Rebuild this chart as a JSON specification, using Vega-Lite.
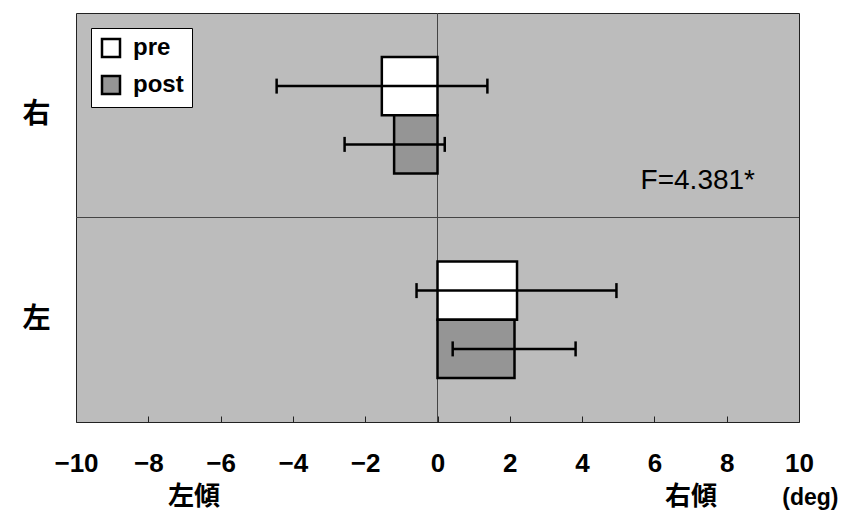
{
  "$schema": "https://vega.github.io/schema/vega-lite/v6.json",
  "width": 723,
  "height": 409,
  "autosize": "none",
  "padding": {"left": 76, "top": 13, "right": 47, "bottom": 91},
  "background": "white",
  "config": {
    "view": {"fill": "#bcbcbc", "stroke": "#222222", "strokeWidth": 1},
    "axis": {"labelColor": "black", "titleColor": "black", "grid": false}
  },
  "datasets": {
    "tilt": [
      {"side": "右", "phase": "pre", "mean": -1.54, "lo": -4.45, "hi": 1.38},
      {"side": "右", "phase": "post", "mean": -1.2, "lo": -2.57, "hi": 0.2},
      {"side": "左", "phase": "pre", "mean": 2.2, "lo": -0.58, "hi": 4.95},
      {"side": "左", "phase": "post", "mean": 2.13, "lo": 0.42, "hi": 3.82}
    ],
    "stat": [{"label": "F=4.381*", "x": 7.2, "y": 1.18, "zero": 0, "mid": 1}]
  },
  "layer": [
    {
      "data": {"name": "stat"},
      "layer": [
        {
          "mark": {"type": "rule", "color": "#444444", "strokeWidth": 1},
          "encoding": {
            "x": {
              "field": "zero",
              "type": "quantitative",
              "scale": {"domain": [-10, 10], "nice": false, "zero": false},
              "axis": {
                "orient": "bottom",
                "values": [-6.75, 7.0],
                "labelExpr": "datum.value < 0 ? '左傾' : '右傾'",
                "labelFlush": false,
                "domain": false,
                "ticks": false,
                "tickSize": 0,
                "labelFont": "Noto Sans CJK JP",
                "labelFontWeight": "bold",
                "labelFontSize": 26,
                "labelBaseline": "middle",
                "labelPadding": 74,
                "title": "(deg)",
                "titleFont": "Liberation Sans",
                "titleFontWeight": "bold",
                "titleFontSize": 23,
                "titleAlign": "right",
                "titleBaseline": "middle",
                "titleX": 762,
                "titleY": 75
              }
            }
          }
        },
        {
          "mark": {"type": "rule", "color": "#444444", "strokeWidth": 1},
          "encoding": {
            "y": {
              "field": "mid",
              "type": "quantitative",
              "scale": {"domain": [0, 2], "nice": false, "zero": false},
              "axis": null
            }
          }
        },
        {
          "mark": {"type": "text", "font": "Liberation Sans", "fontSize": 28, "align": "center", "baseline": "middle", "color": "black"},
          "encoding": {
            "x": {"field": "x", "type": "quantitative"},
            "y": {"field": "y", "type": "quantitative"},
            "text": {"field": "label"}
          }
        }
      ]
    },
    {
      "data": {"name": "tilt"},
      "encoding": {
        "y": {
          "field": "side",
          "type": "nominal",
          "sort": ["右", "左"],
          "scale": {"domain": ["右", "左"], "paddingInner": 0.43, "paddingOuter": 0.215},
          "axis": {
            "orient": "left",
            "title": null,
            "domain": false,
            "ticks": false,
            "labelAngle": 0,
            "labelFont": "Noto Sans CJK JP",
            "labelFontWeight": "bold",
            "labelFontSize": 28,
            "labelPadding": 26
          }
        },
        "yOffset": {
          "field": "phase",
          "type": "nominal",
          "sort": ["pre", "post"],
          "scale": {"domain": ["pre", "post"], "paddingInner": 0, "paddingOuter": 0}
        }
      },
      "layer": [
        {
          "mark": {"type": "bar", "stroke": "black", "strokeWidth": 2.5},
          "encoding": {
            "x": {
              "field": "mean",
              "type": "quantitative",
              "stack": null,
              "axis": {
                "orient": "bottom",
                "values": [-10, -8, -6, -4, -2, 0, 2, 4, 6, 8, 10],
                "title": null,
                "domain": false,
                "tickSize": -6,
                "tickColor": "#222222",
                "labelFlush": false,
                "labelFont": "Liberation Sans",
                "labelFontWeight": "bold",
                "labelFontSize": 26,
                "labelBaseline": "top",
                "labelPadding": 34
              }
            },
            "color": {
              "field": "phase",
              "type": "nominal",
              "sort": ["pre", "post"],
              "scale": {"domain": ["pre", "post"], "range": ["white", "#959595"]},
              "legend": {
                "title": null,
                "orient": "top-left",
                "offset": 15,
                "padding": 8,
                "fillColor": "white",
                "strokeColor": "black",
                "symbolType": "square",
                "symbolSize": 324,
                "symbolStrokeColor": "black",
                "symbolStrokeWidth": 2.5,
                "symbolOpacity": 1,
                "labelFont": "Liberation Sans",
                "labelFontWeight": "bold",
                "labelFontSize": 24,
                "labelColor": "black",
                "labelOffset": 10,
                "rowPadding": 9
              }
            }
          }
        },
        {
          "mark": {"type": "rule", "color": "black", "strokeWidth": 2.5},
          "encoding": {
            "x": {"field": "lo", "type": "quantitative"},
            "x2": {"field": "hi"}
          }
        },
        {
          "mark": {"type": "tick", "color": "black", "size": 15, "thickness": 2.5, "opacity": 1},
          "encoding": {"x": {"field": "lo", "type": "quantitative"}}
        },
        {
          "mark": {"type": "tick", "color": "black", "size": 15, "thickness": 2.5, "opacity": 1},
          "encoding": {"x": {"field": "hi", "type": "quantitative"}}
        }
      ]
    }
  ],
  "resolve": {"scale": {"y": "independent"}, "axis": {"x": "independent"}}
}
